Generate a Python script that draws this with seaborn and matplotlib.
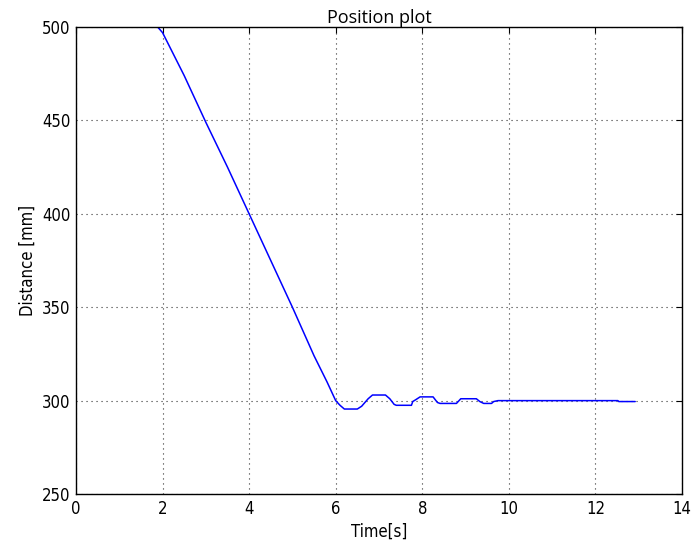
import matplotlib
matplotlib.use("Agg")
import matplotlib.pyplot as plt
import seaborn as sns
import pandas as pd

# Data
time_s = [1.85, 2.0, 2.5, 3.0, 3.5, 4.0, 4.5, 5.0, 5.5, 5.8, 6.0, 6.1, 6.2,
          6.5, 6.6, 6.75, 6.85, 7.15, 7.25, 7.35, 7.4, 7.75, 7.78, 7.85,
          7.95, 7.98, 8.25, 8.35, 8.41, 8.79, 8.85, 8.89, 9.25, 9.33, 9.42,
          9.6, 9.65, 9.75, 12.52, 12.54, 12.92]
distance_mm = [501, 497, 474, 449, 425, 400, 375, 350, 324, 310, 300, 297.5,
               295.5, 295.5, 297, 301, 303, 303, 301, 298, 297.5, 297.5, 299.5,
               300.5, 302, 302, 302, 299, 298.5, 298.5, 300, 301, 301, 299.5,
               298.5, 298.5, 299.5, 300, 300, 299.5, 299.5]
x_ticks = [0, 2, 4, 6, 8, 10, 12, 14]
y_ticks = [250, 300, 350, 400, 450, 500]

df = pd.DataFrame({"Time": time_s, "Distance": distance_mm})

sns.set_style("white")
plt.rcParams["font.family"] = ["DejaVu Sans"]
plt.rcParams["font.stretch"] = "condensed"
plt.rcParams["text.color"] = "black"
plt.rcParams["axes.labelcolor"] = "black"
plt.rcParams["xtick.color"] = "black"
plt.rcParams["ytick.color"] = "black"
plt.rcParams["xtick.direction"] = "in"
plt.rcParams["ytick.direction"] = "in"
plt.rcParams["xtick.top"] = True
plt.rcParams["ytick.right"] = True

fig = plt.figure(figsize=(6.92, 5.46), dpi=100)
ax = fig.add_axes([0.1098, 0.0952, 0.8757, 0.8553])

sns.lineplot(data=df, x="Time", y="Distance", ax=ax, color="#0000ff",
             linewidth=1.1, estimator=None, sort=False)

ax.set_xlim(0, 14)
ax.set_ylim(250, 500)
ax.set_xticks(x_ticks)
ax.set_yticks(y_ticks)
ax.tick_params(labelsize=12, length=4, width=0.8, color="black",
               labelcolor="black", pad=4)
ax.grid(True, color="#333333", linestyle=(0, (1, 3.5)), linewidth=0.8)
for s in ax.spines.values():
    s.set_color("black")
    s.set_linewidth(1.0)
ax.set_xlabel("Time[s]", fontsize=12, color="black")
ax.set_ylabel("Distance [mm]", fontsize=12, color="black")
ax.set_title("Position plot", fontsize=13, family="Open Sans",
             fontstretch="normal", color="black", pad=3)

fig.savefig("out.png", dpi=100)
